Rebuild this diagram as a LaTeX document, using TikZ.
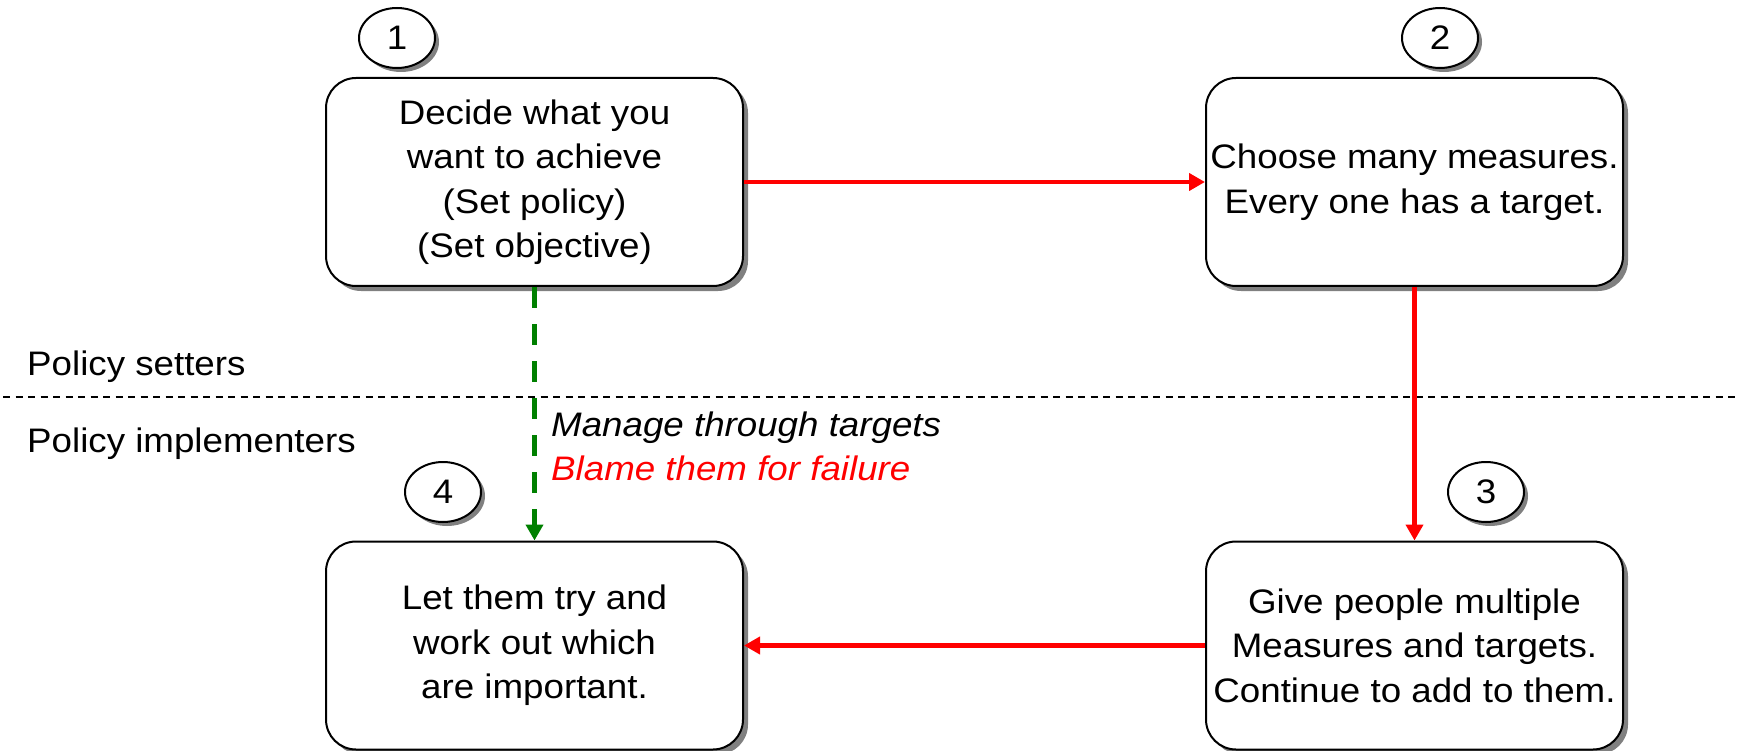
\documentclass[tikz,border=0pt]{standalone}
\usepackage{fontspec}
\setmainfont{Liberation Sans}[FakeStretch=1.08]
\usepackage{tikz}
\usetikzlibrary{shapes.geometric,arrows.meta,shadows,positioning}
\definecolor{flowgreen}{RGB}{0,128,0}
\tikzset
{
    stepbox/.style  = {draw=black, line width=2pt, rounded corners=30pt, fill=white, align=center, inner sep=0pt, minimum width=417pt, minimum height=208pt, font=\fontsize{34}{44.5}\selectfont, drop shadow={shadow xshift=5pt, shadow yshift=-5pt, fill=black!50, opacity=1}},
    numlabel/.style = {ellipse, draw=black, line width=2pt, fill=white, inner sep=0pt, minimum width=76pt, minimum height=60pt, font=\fontsize{34}{40}\selectfont, drop shadow={shadow xshift=4pt, shadow yshift=-4pt, fill=black!50, opacity=1}},
    sidetext/.style = {anchor=base west, inner sep=0pt, font=\fontsize{34}{40}\selectfont},
    redflow/.style  = {->, draw=red, line width=4.5pt},
    greenflow/.style = {->, draw=flowgreen, line width=4.5pt, dash pattern=on 21pt off 16pt},
    divider/.style  = {draw=black, line width=2pt, dash pattern=on 7pt off 5.5pt}
}

\begin{document}
\begin{tikzpicture}[x=1pt, y=-1pt, >={Triangle[length=16pt,width=17pt]}]
    \useasboundingbox (0,0) rectangle (1742,751);

    % level line between the two groups
    \coordinate (lineleft) at (3,397);
    \coordinate (lineright) at (1738,397);
    \draw [divider] (lineleft) -- (lineright);
    \node [sidetext] (setters) at (27,375) {Policy setters};
    \node [sidetext] (implementers) at (27,452) {Policy implementers};

    % the four steps
    \node [stepbox] (decide) at (534.5,182) {Decide what you\\want to achieve\\(Set policy)\\(Set objective)};
    \node [stepbox] (choose) at (1414.5,182) {Choose many measures.\\Every one has a target.};
    \node [stepbox] (give) at (1414.5,645.5) {Give people multiple\\Measures and targets.\\Continue to add to them.};
    \node [stepbox] (letthem) at (534.5,645.5) {Let them try and\\work out which\\are important.};

    \node [numlabel] (one) at (397,38) {1};
    \node [numlabel] (two) at (1440,38) {2};
    \node [numlabel] (three) at (1486,492) {3};
    \node [numlabel] (four) at (443,492) {4};

    % connectors
    \draw [redflow] (decide) -- (choose);
    \draw [redflow] (choose) -- (give);
    \draw [redflow] (give) -- (letthem);
    \draw [greenflow] (decide) -- (letthem);

    \node [sidetext, font=\fontsize{34}{40}\selectfont\itshape] (manage) at (551,436) {Manage through targets};
    \node [sidetext, font=\fontsize{34}{40}\selectfont\itshape, text=red] (blame) at (551,480) {Blame them for failure};
\end{tikzpicture}
\end{document}
